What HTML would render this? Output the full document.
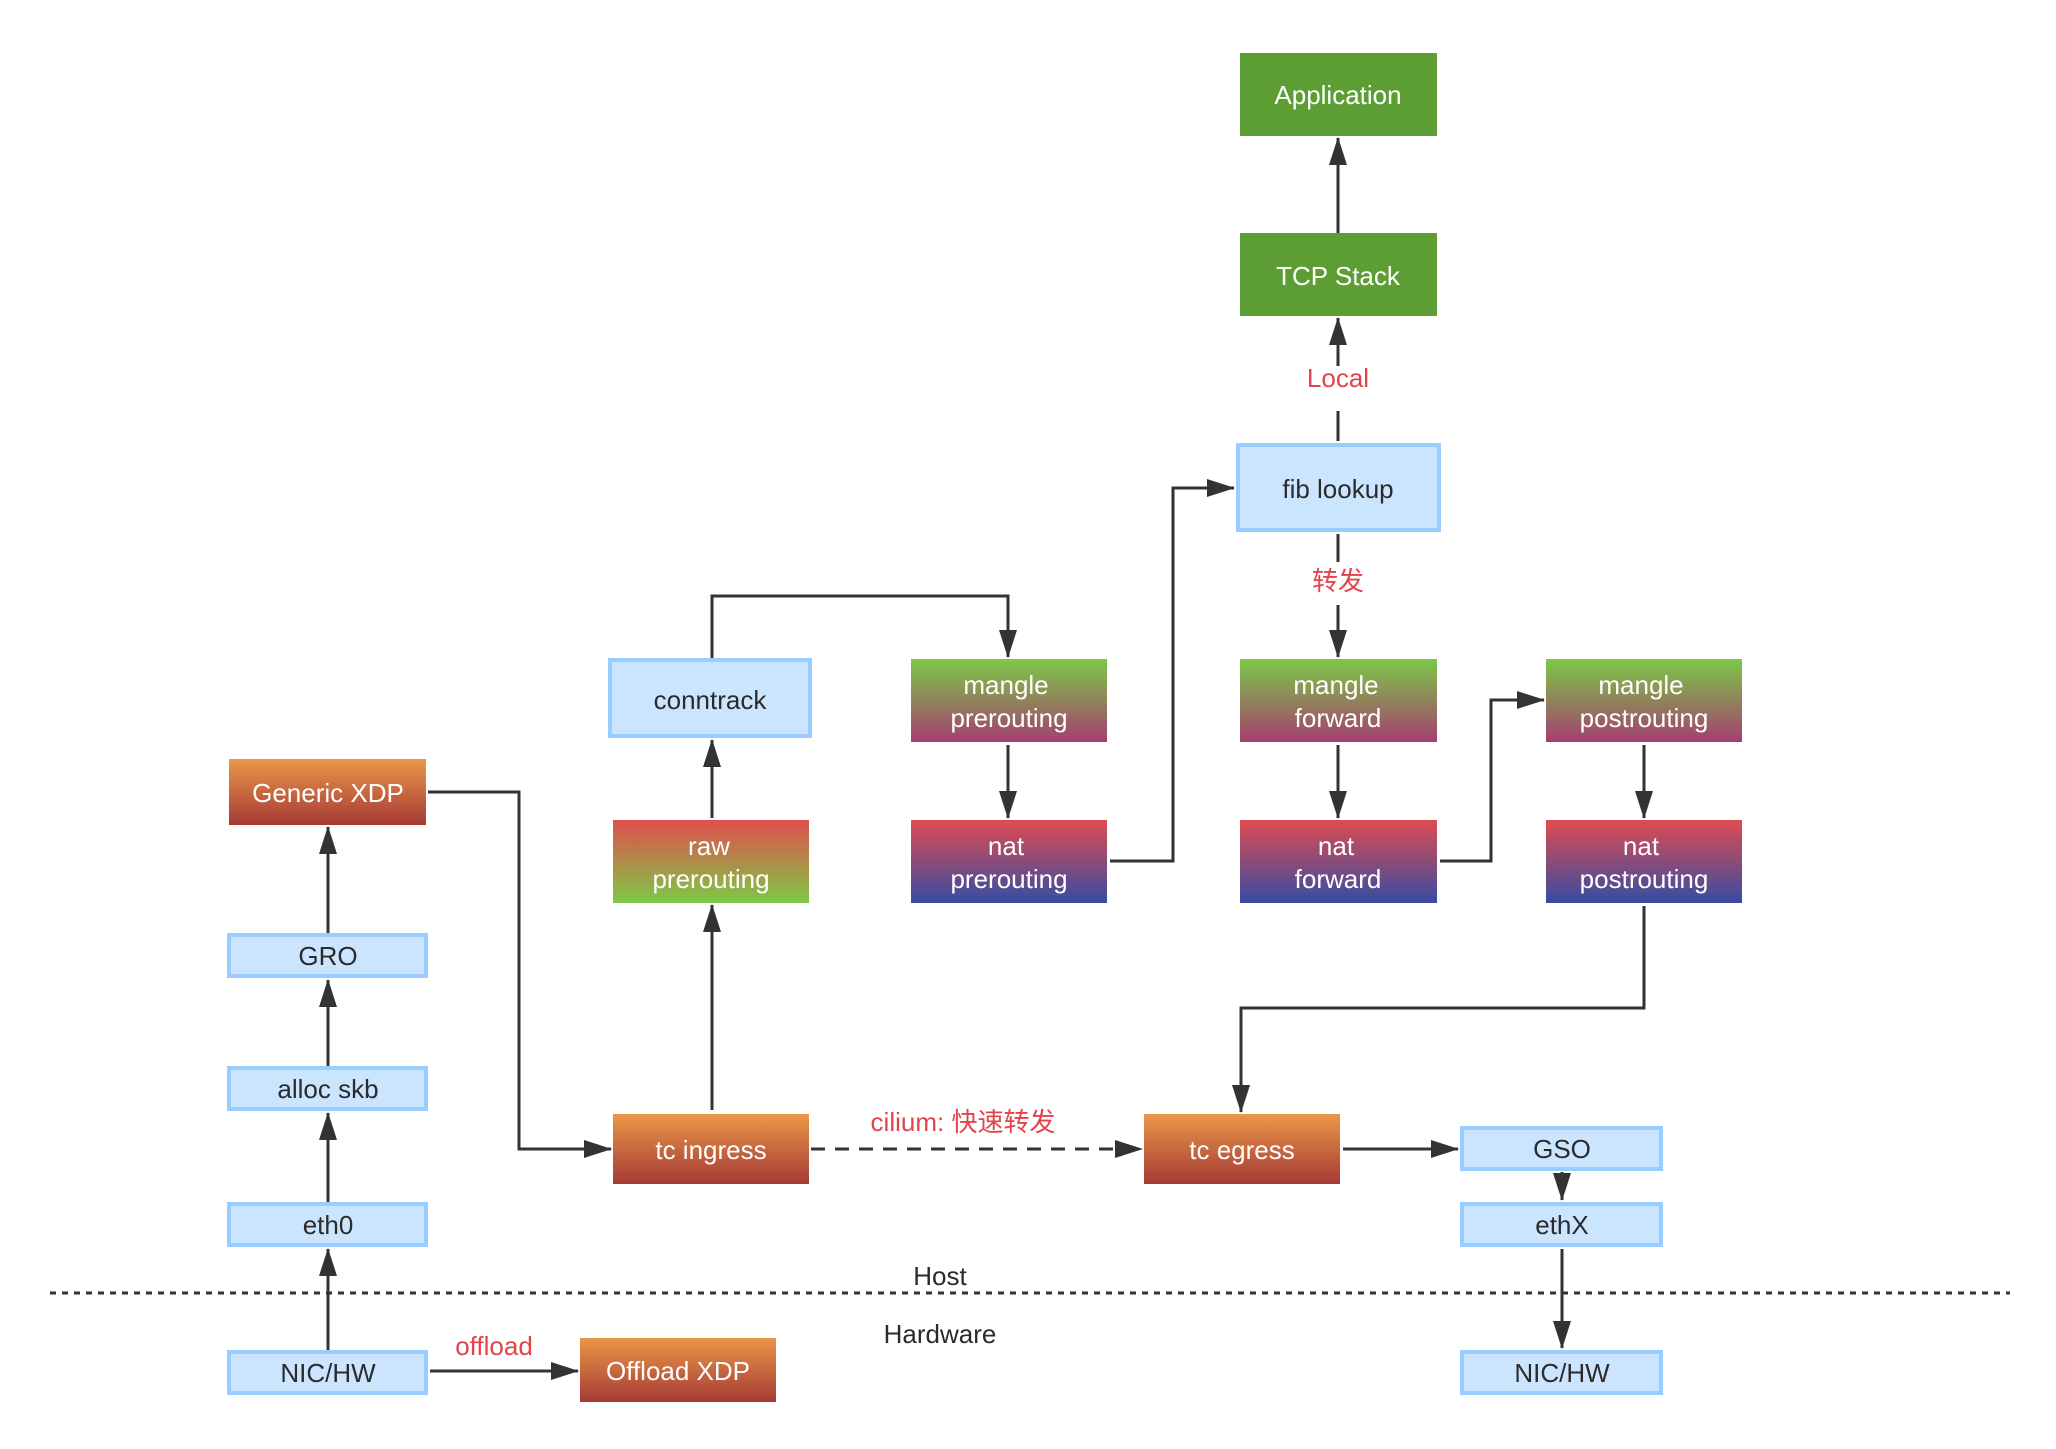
<!DOCTYPE html>
<html><head><meta charset="utf-8"><style>
html,body{margin:0;padding:0;background:#fff;}
svg{display:block;}
text{font-family:"Liberation Sans","Noto Sans CJK SC",sans-serif;font-size:26px;text-anchor:middle;}
.w{fill:#fff;}
.d{fill:#2b2b2b;}
.r{fill:#e5434b;}
.ln{stroke:#333;stroke-width:3;fill:none;}
.lb{fill:#cce5ff;stroke:#99ccff;stroke-width:4;}
</style></head><body>
<svg width="2056" height="1449" viewBox="0 0 2056 1449" xmlns="http://www.w3.org/2000/svg">
<defs>
<linearGradient id="or" x1="0" y1="0" x2="0" y2="1"><stop offset="0" stop-color="#ea9748"/><stop offset="1" stop-color="#a63a36"/></linearGradient>
<linearGradient id="raw" x1="0" y1="0" x2="0" y2="1"><stop offset="0" stop-color="#e04e4e"/><stop offset="1" stop-color="#7ec946"/></linearGradient>
<linearGradient id="mg" x1="0" y1="0" x2="0" y2="1"><stop offset="0" stop-color="#7cc846"/><stop offset="1" stop-color="#a43f70"/></linearGradient>
<linearGradient id="nat" x1="0" y1="0" x2="0" y2="1"><stop offset="0" stop-color="#df4b50"/><stop offset="1" stop-color="#364ca2"/></linearGradient>
<marker id="ah" markerWidth="10" markerHeight="10" refX="9" refY="5" orient="auto" markerUnits="userSpaceOnUse" viewBox="0 0 10 10"><path d="M0,0 L10,5 L0,10 z" fill="#333"/></marker>
<marker id="a" markerWidth="28" markerHeight="18" refX="27" refY="9" orient="auto" markerUnits="userSpaceOnUse"><path d="M0,0 L28,9 L0,18 z" fill="#333"/></marker>
</defs>

<!-- dotted separator -->
<line x1="50" y1="1293" x2="2010" y2="1293" stroke="#333" stroke-width="3" stroke-dasharray="6,6"/>
<text x="940" y="1285" class="d">Host</text>
<text x="940" y="1343" class="d">Hardware</text>

<!-- connectors -->
<path class="ln" d="M328 1350 V1249" marker-end="url(#a)"/>
<path class="ln" d="M328 1202 V1113" marker-end="url(#a)"/>
<path class="ln" d="M328 1066 V980" marker-end="url(#a)"/>
<path class="ln" d="M328 933 V827" marker-end="url(#a)"/>
<path class="ln" d="M428 792 H519 V1149 H611" marker-end="url(#a)"/>
<path class="ln" d="M712 1110 V905" marker-end="url(#a)"/>
<path class="ln" d="M712 818 V740" marker-end="url(#a)"/>
<path class="ln" d="M712 658 V596 H1008 V657" marker-end="url(#a)"/>
<path class="ln" d="M1008 745 V818" marker-end="url(#a)"/>
<path class="ln" d="M1110 861 H1173 V488 H1234" marker-end="url(#a)"/>
<path class="ln" d="M1338 441 V411 M1338 366 V318" marker-end="url(#a)"/>
<path class="ln" d="M1338 233 V138" marker-end="url(#a)"/>
<path class="ln" d="M1338 534 V562 M1338 605 V657" marker-end="url(#a)"/>
<path class="ln" d="M1338 745 V818" marker-end="url(#a)"/>
<path class="ln" d="M1440 861 H1491 V700 H1544" marker-end="url(#a)"/>
<path class="ln" d="M1644 745 V818" marker-end="url(#a)"/>
<path class="ln" d="M1644 906 V1008 H1241 V1112" marker-end="url(#a)"/>
<path class="ln" d="M811 1149 H1142" stroke-dasharray="14,10" marker-end="url(#a)"/>
<path class="ln" d="M1343 1149 H1458" marker-end="url(#a)"/>
<path class="ln" d="M1562 1172 V1200" marker-end="url(#a)"/>
<path class="ln" d="M1562 1249 V1348" marker-end="url(#a)"/>
<path class="ln" d="M430 1371 H578" marker-end="url(#a)"/>

<!-- edge labels -->
<text x="1338" y="387" class="r">Local</text>
<text x="1338" y="590" class="r">转发</text>
<text x="963" y="1131" class="r">cilium: 快速转发</text>
<text x="494" y="1355" class="r">offload</text>

<!-- green boxes -->
<rect x="1240" y="53" width="197" height="83" fill="#5d9e34"/>
<text x="1338" y="104" class="w">Application</text>
<rect x="1240" y="233" width="197" height="83" fill="#5d9e34"/>
<text x="1338" y="285" class="w">TCP Stack</text>

<!-- light blue boxes -->
<rect x="1238" y="445" width="201" height="85" class="lb"/>
<text x="1338" y="498" class="d">fib lookup</text>
<rect x="610" y="660" width="200" height="76" class="lb"/>
<text x="710" y="709" class="d">conntrack</text>
<rect x="229" y="935" width="197" height="41" class="lb"/>
<text x="328" y="965" class="d">GRO</text>
<rect x="229" y="1068" width="197" height="41" class="lb"/>
<text x="328" y="1098" class="d">alloc skb</text>
<rect x="229" y="1204" width="197" height="41" class="lb"/>
<text x="328" y="1234" class="d">eth0</text>
<rect x="229" y="1352" width="197" height="41" class="lb"/>
<text x="328" y="1382" class="d">NIC/HW</text>
<rect x="1462" y="1128" width="199" height="41" class="lb"/>
<text x="1562" y="1158" class="d">GSO</text>
<rect x="1462" y="1204" width="199" height="41" class="lb"/>
<text x="1562" y="1234" class="d">ethX</text>
<rect x="1462" y="1352" width="199" height="41" class="lb"/>
<text x="1562" y="1382" class="d">NIC/HW</text>

<!-- orange boxes -->
<rect x="229" y="759" width="197" height="66" fill="url(#or)"/>
<text x="328" y="802" class="w">Generic XDP</text>
<rect x="613" y="1114" width="196" height="70" fill="url(#or)"/>
<text x="711" y="1159" class="w">tc ingress</text>
<rect x="1144" y="1114" width="196" height="70" fill="url(#or)"/>
<text x="1242" y="1159" class="w">tc egress</text>
<rect x="580" y="1338" width="196" height="64" fill="url(#or)"/>
<text x="678" y="1380" class="w">Offload XDP</text>

<!-- raw -->
<rect x="613" y="820" width="196" height="83" fill="url(#raw)"/>
<text x="709" y="855" class="w">raw</text>
<text x="711" y="888" class="w">prerouting</text>

<!-- mangle -->
<rect x="911" y="659" width="196" height="83" fill="url(#mg)"/>
<text x="1006" y="694" class="w">mangle</text>
<text x="1009" y="727" class="w">prerouting</text>
<rect x="1240" y="659" width="197" height="83" fill="url(#mg)"/>
<text x="1336" y="694" class="w">mangle</text>
<text x="1338" y="727" class="w">forward</text>
<rect x="1546" y="659" width="196" height="83" fill="url(#mg)"/>
<text x="1641" y="694" class="w">mangle</text>
<text x="1644" y="727" class="w">postrouting</text>

<!-- nat -->
<rect x="911" y="820" width="196" height="83" fill="url(#nat)"/>
<text x="1006" y="855" class="w">nat</text>
<text x="1009" y="888" class="w">prerouting</text>
<rect x="1240" y="820" width="197" height="83" fill="url(#nat)"/>
<text x="1336" y="855" class="w">nat</text>
<text x="1338" y="888" class="w">forward</text>
<rect x="1546" y="820" width="196" height="83" fill="url(#nat)"/>
<text x="1641" y="855" class="w">nat</text>
<text x="1644" y="888" class="w">postrouting</text>
</svg>
</body></html>
